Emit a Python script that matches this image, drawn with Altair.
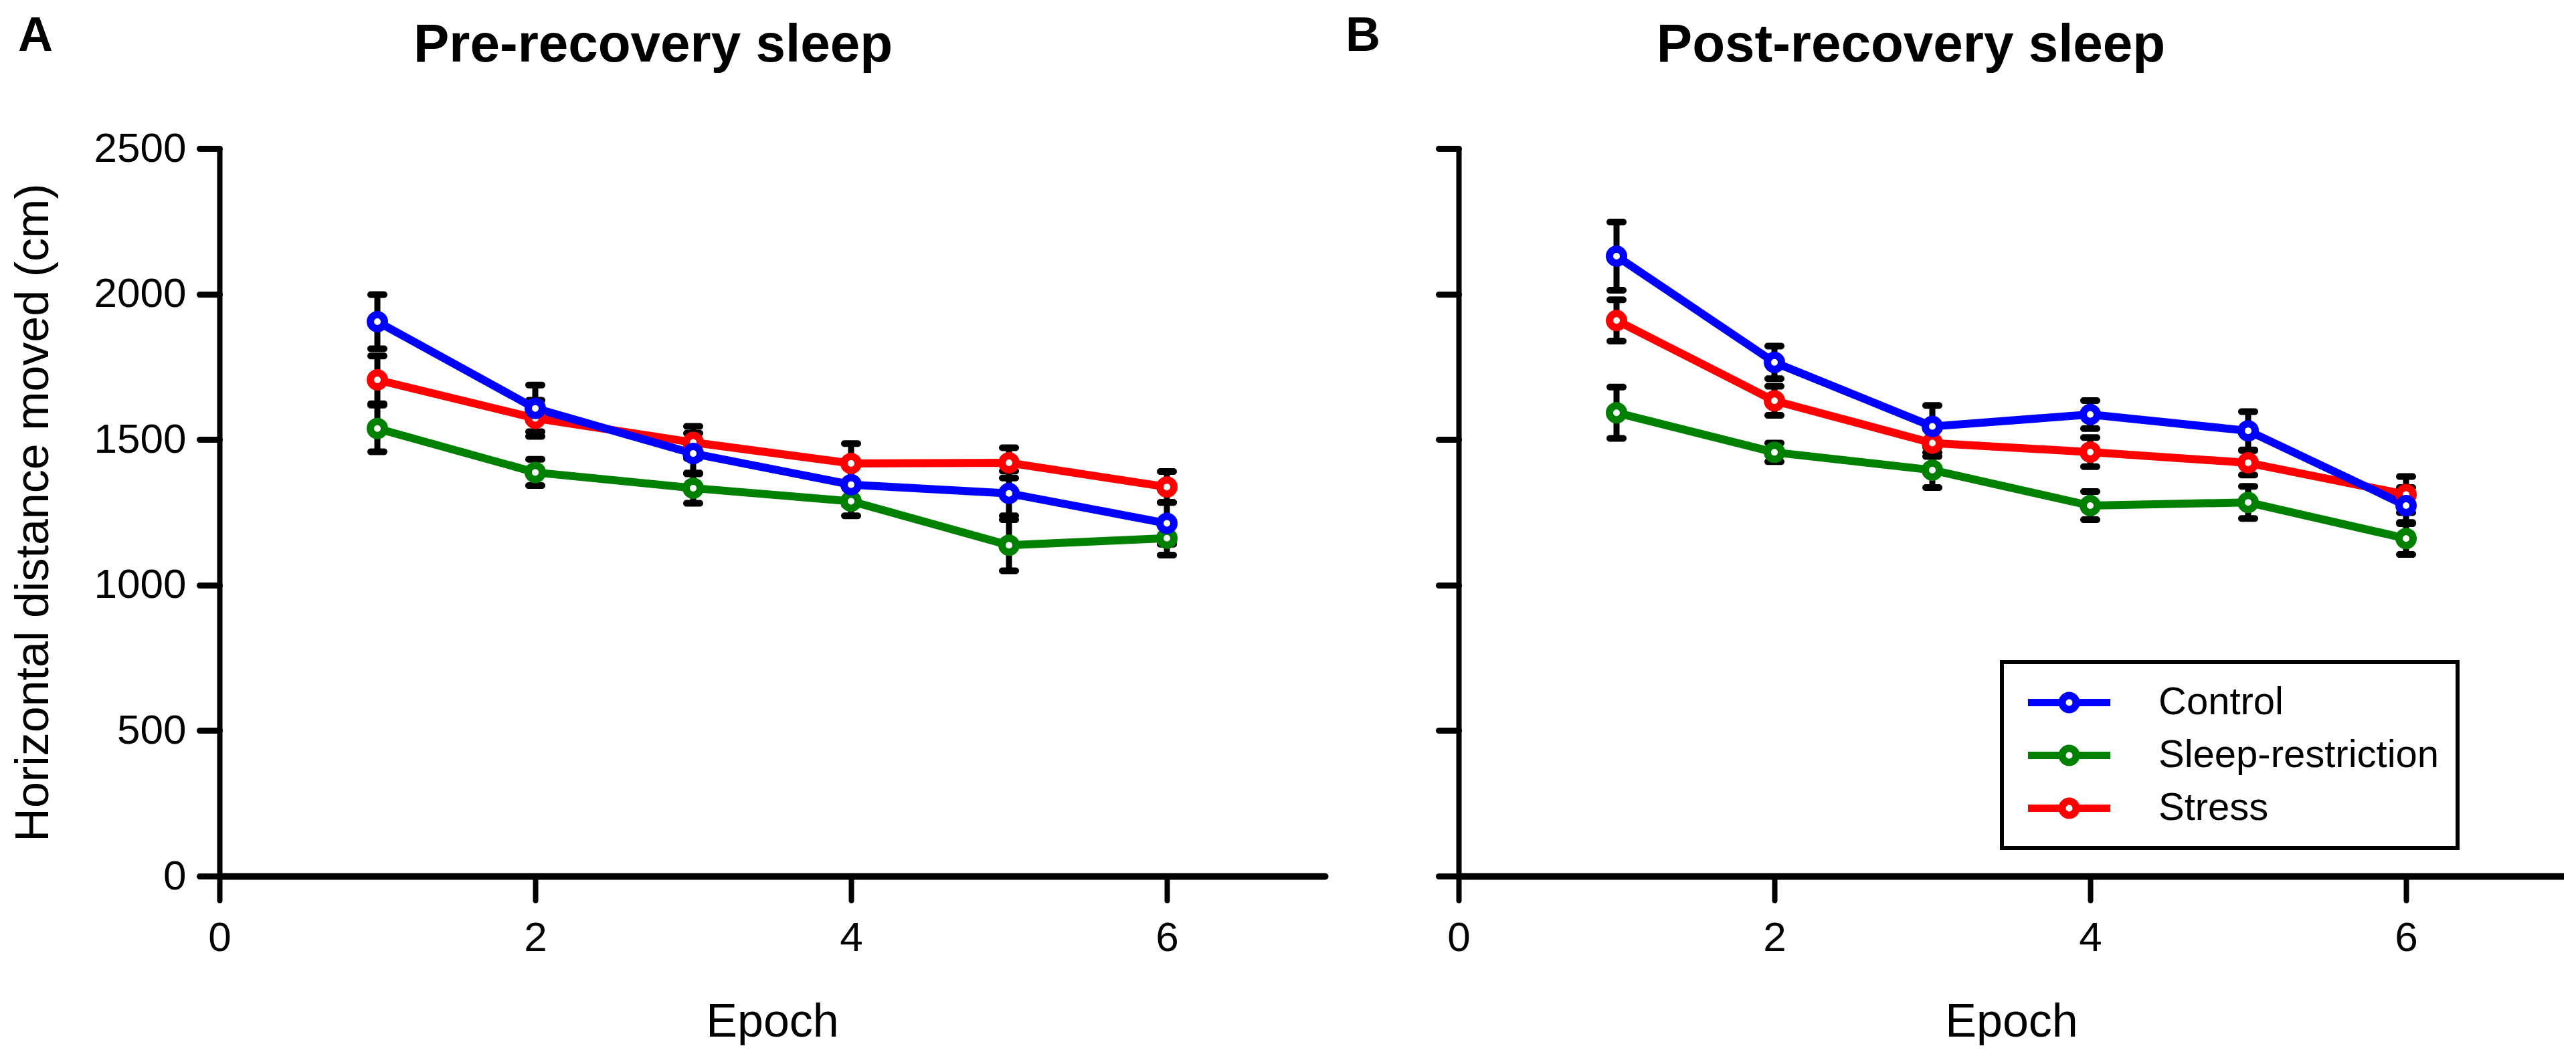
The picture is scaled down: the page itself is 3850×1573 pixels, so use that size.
import altair as alt
import pandas as pd

# ---------------- data ----------------
epochs = [1, 2, 3, 4, 5, 6]
groups = ["Control", "Sleep-restriction", "Stress"]
group_colors = ["#0000ff", "#008000", "#ff0000"]
draw_order = ["Sleep-restriction", "Stress", "Control"]

pre_control = [1905, 1607, 1452, 1345, 1315, 1212]
pre_control_sem = [93, 80, 70, 70, 77, 72]
pre_sleep = [1538, 1387, 1333, 1288, 1137, 1161]
pre_sleep_sem = [80, 45, 52, 50, 88, 58]
pre_stress = [1705, 1573, 1490, 1418, 1420, 1337]
pre_stress_sem = [82, 62, 55, 68, 52, 53]

post_control = [2130, 1765, 1545, 1586, 1530, 1273]
post_control_sem = [117, 56, 72, 48, 66, 62]
post_sleep = [1592, 1456, 1395, 1273, 1284, 1160]
post_sleep_sem = [88, 32, 60, 48, 55, 55]
post_stress = [1909, 1633, 1488, 1457, 1420, 1311]
post_stress_sem = [71, 50, 46, 50, 42, 62]

y_ticks = [0, 500, 1000, 1500, 2000, 2500]
x_ticks = [0, 2, 4, 6]

FONT = "Liberation Sans, Arial, Helvetica, sans-serif"


def build_frame(series):
    rows = []
    for g in draw_order:
        vals, sems = series[g]
        for e, v, s in zip(epochs, vals, sems):
            rows.append({"epoch": e, "group": g, "value": v, "lo": v - s, "hi": v + s})
    return pd.DataFrame(rows)


pre_df = build_frame({
    "Control": (pre_control, pre_control_sem),
    "Sleep-restriction": (pre_sleep, pre_sleep_sem),
    "Stress": (pre_stress, pre_stress_sem),
})
post_df = build_frame({
    "Control": (post_control, post_control_sem),
    "Sleep-restriction": (post_sleep, post_sleep_sem),
    "Stress": (post_stress, post_stress_sem),
})

W, H = 1652, 1088

# legend glyph: line broken by an open circle (unit = 28 px)
legend_path = ("M-2.2,0L-0.4,0M0.4,0L2.2,0"
               "M-0.375,0A0.375,0.375,0,1,1,0.375,0A0.375,0.375,0,1,1,-0.375,0Z")


def panel(df, title_text, title_x, letter, show_y, legend):
    x_axis = alt.Axis(values=x_ticks, title="Epoch", grid=False, format="d",
                      domainColor="black", domainWidth=10, domainCap="round",
                      tickColor="black", tickWidth=8, tickSize=36, tickCap="round",
                      labelFont=FONT, labelFontSize=62, labelColor="black",
                      labelPadding=26, labelFlush=False, labelOverlap=False,
                      titleFont=FONT, titleFontSize=70, titleFontWeight="normal",
                      titleColor="black", titleY=239, titleBaseline="alphabetic")
    y_axis = alt.Axis(values=y_ticks, grid=False, labels=show_y, format="d",
                      title="Horizontal distance moved (cm)" if show_y else None,
                      domainColor="black", domainWidth=8,
                      tickColor="black", tickWidth=9, tickSize=30, tickCap="round",
                      labelFont=FONT, labelFontSize=62, labelColor="black",
                      labelPadding=20, labelOverlap=False,
                      titleFont=FONT, titleFontSize=70, titleFontWeight="normal",
                      titleColor="black", titleX=-278, titleY=H / 2, titleAngle=270,
                      titleAlign="center", titleBaseline="middle")
    xs = alt.Scale(domain=[0, 7], nice=False, zero=False)
    ys = alt.Scale(domain=[0, 2500], nice=False)
    X = alt.X("epoch:Q", scale=xs, axis=x_axis)
    cscale = alt.Scale(domain=groups, range=group_colors)

    base = alt.Chart(df)
    bars = base.mark_rule(color="black", strokeWidth=9).encode(
        x=X, y=alt.Y("lo:Q", scale=ys, axis=y_axis), y2="hi:Q")
    cap_hi = base.mark_tick(color="black", orient="horizontal", size=30,
                            thickness=10, cornerRadius=5, opacity=1).encode(
        x=X, y=alt.Y("hi:Q", scale=ys, axis=y_axis))
    cap_lo = base.mark_tick(color="black", orient="horizontal", size=30,
                            thickness=10, cornerRadius=5, opacity=1).encode(
        x=X, y=alt.Y("lo:Q", scale=ys, axis=y_axis))
    lines = base.mark_line(strokeWidth=12, strokeJoin="round", strokeCap="round").encode(
        x=X, y=alt.Y("value:Q", scale=ys, axis=y_axis),
        color=alt.Color("group:N", scale=cscale, legend=legend, sort=groups))
    points = base.mark_point(shape="circle", filled=False, fill="white", fillOpacity=1,
                             size=441, strokeWidth=11, opacity=1).encode(
        x=X, y=alt.Y("value:Q", scale=ys, axis=y_axis),
        color=alt.Color("group:N", scale=cscale, legend=None, sort=groups))

    one = pd.DataFrame({"k": [0]})
    title = alt.Chart(one).mark_text(text=title_text, font=FONT, fontSize=80,
                                     fontWeight="bold", color="black",
                                     align="center", baseline="alphabetic").encode(
        x=alt.value(title_x), y=alt.value(-130))
    lab = alt.Chart(one).mark_text(text=letter, font=FONT, fontSize=72,
                                   fontWeight="bold", color="black",
                                   align="left", baseline="alphabetic").encode(
        x=alt.value(-301 if show_y else -169), y=alt.value(-146))

    return alt.layer(bars, cap_hi, cap_lo, lines, points, title, lab).properties(
        width=W, height=H)


leg = alt.Legend(orient="none", legendX=812, legendY=768, title=None,
                 symbolType=legend_path, symbolSize=3136, symbolStrokeWidth=11,
                 symbolFillColor="white", symbolOffset=40,
                 labelFont=FONT, labelFontSize=58, labelLimit=0,
                 labelColor="black", labelOffset=100, padding=27, rowPadding=13,
                 strokeColor="black", fillColor="white")

left = panel(pre_df, "Pre-recovery sleep", 648, "A", True, None)
right = panel(post_df, "Post-recovery sleep", 676, "B", False, leg)

chart = alt.hconcat(left, right, spacing=31).resolve_scale(color="independent").properties(
    padding={"left": 6, "top": 10, "right": 0, "bottom": 0},
    background="white",
).configure_view(stroke=None).configure_legend(strokeWidth=6)

chart.save("out.html", embed_options={"renderer": "svg", "actions": False})
